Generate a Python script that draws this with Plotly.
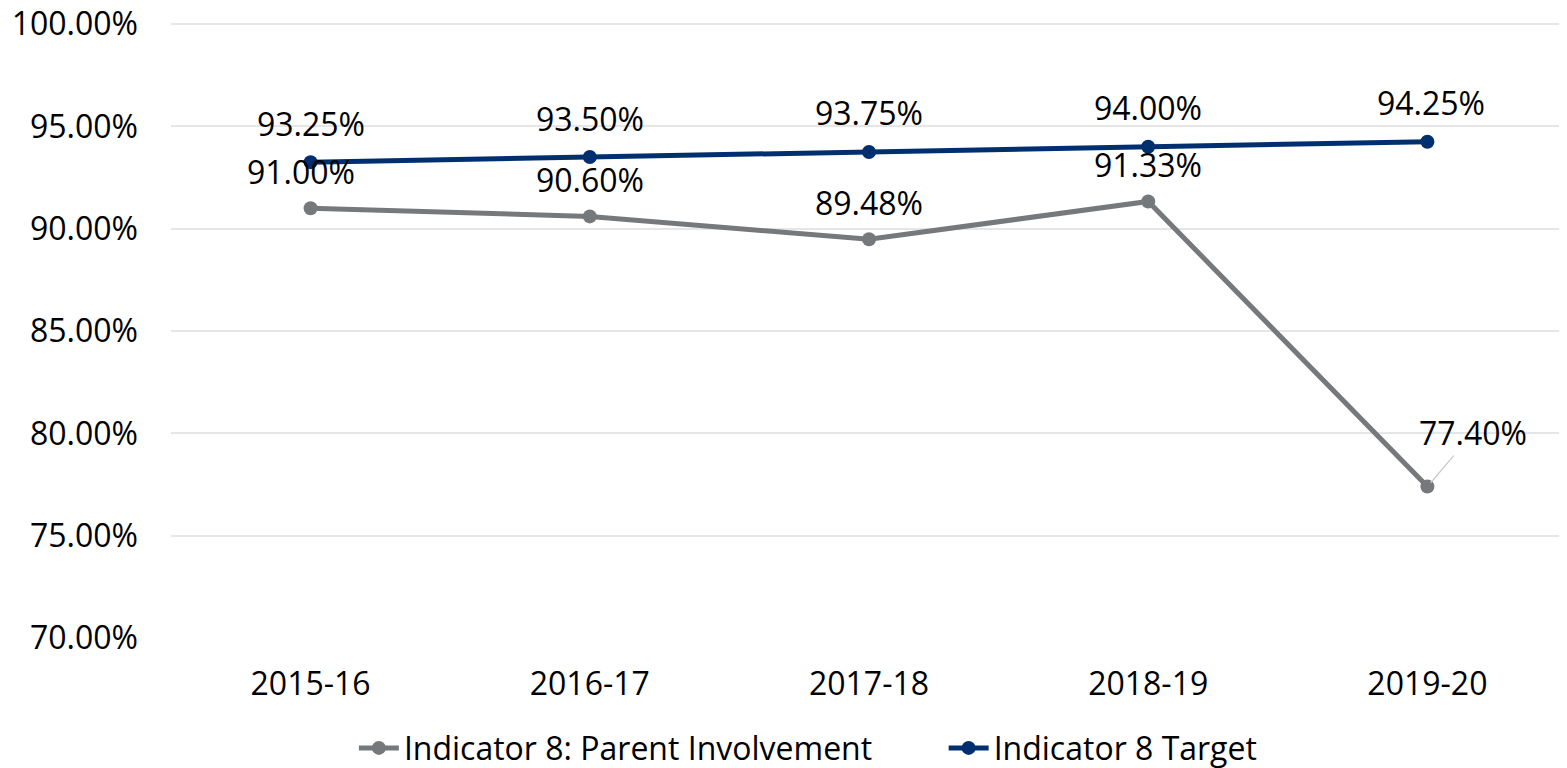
import plotly.graph_objects as go

categories = ["2015-16", "2016-17", "2017-18", "2018-19", "2019-20"]
parent_involvement = [91.00, 90.60, 89.48, 91.33, 77.40]
target = [93.25, 93.50, 93.75, 94.00, 94.25]
y_ticks = [70, 75, 80, 85, 90, 95, 100]

GRAY = "#76797c"
NAVY = "#002f6f"
FONT = "Open Sans"
FS = 32

fig = go.Figure()
fig.add_trace(go.Scatter(
    x=categories, y=parent_involvement,
    name="Indicator 8: Parent Involvement" + "\u00a0" * 8,
    mode="lines+markers", line=dict(color=GRAY, width=5), marker=dict(size=14, color=GRAY),
))
fig.add_trace(go.Scatter(
    x=categories, y=target, name="Indicator 8 Target",
    mode="lines+markers", line=dict(color=NAVY, width=5), marker=dict(size=14, color=NAVY),
))

ann = []
for i, (c, v) in enumerate(zip(categories, target)):
    ann.append(dict(x=c, y=v, text=f"{v:.2f}%", showarrow=False, yshift=39,
                    xshift=4 if i == 4 else 0))
for i, (c, v) in enumerate(zip(categories, parent_involvement)):
    if i == 4:
        ann.append(dict(x=c, y=v, text=f"{v:.2f}%", showarrow=True, arrowhead=0,
                        arrowwidth=1.2, arrowcolor="#c8c8c8", ax=46, ay=-54, standoff=5))
    else:
        ann.append(dict(x=c, y=v, text=f"{v:.2f}%", showarrow=False, yshift=37,
                        xshift=-10 if i == 0 else 0))
for a in ann:
    a["font"] = dict(family=FONT, size=FS, color="#000000")

fig.update_layout(
    width=1559, height=760,
    margin=dict(l=163, r=0, t=15, b=130, autoexpand=False),
    paper_bgcolor="white", plot_bgcolor="white",
    font=dict(family=FONT, size=FS, color="#000000"),
    showlegend=True,
    legend=dict(orientation="h", x=0.131, xanchor="left", y=-0.179, yanchor="middle",
                font=dict(family=FONT, size=FS, color="#000000"), itemwidth=40,
                tracegroupgap=0),
    annotations=ann,
    xaxis=dict(type="category", range=[-0.5, 4.5], showgrid=False, showline=False,
               zeroline=False, ticks="", ticklabelstandoff=24),
    yaxis=dict(range=[70, 100.05], tickvals=y_ticks,
               ticktext=[f"{t:.2f}%" for t in y_ticks],
               showgrid=True, gridcolor="#e6e6e6", gridwidth=2, zeroline=False,
               showline=False, ticks="", ticklabelstandoff=32,
               ticklabeloverflow="allow"),
)

fig.write_html("out.html")
